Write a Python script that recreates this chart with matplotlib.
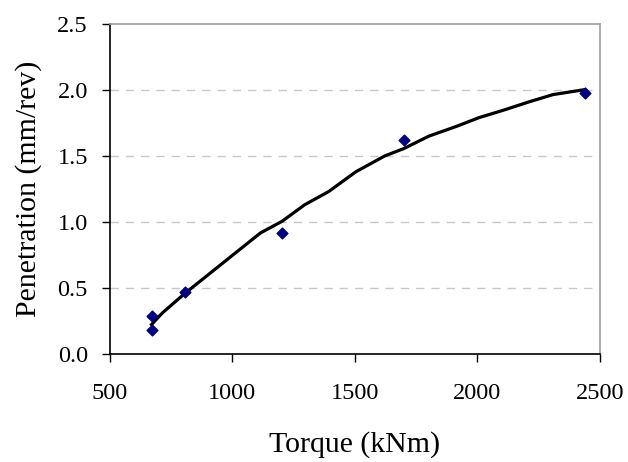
import matplotlib
matplotlib.use("Agg")
import matplotlib.pyplot as plt

# Measured penetration vs. cutterhead torque
torque = [670, 672, 807, 1203, 1700, 2439]
penetration = [0.18, 0.285, 0.47, 0.92, 1.62, 1.98]

# Trend line through the measurements
trend_torque = [670, 714, 807, 919, 999, 1115, 1203, 1295, 1393, 1504,
                1622, 1700, 1802, 1916, 2006, 2112, 2211, 2309, 2439]
trend_pen = [0.222, 0.31, 0.46, 0.626, 0.745, 0.917, 1.005, 1.13, 1.23, 1.38,
             1.50, 1.556, 1.65, 1.725, 1.79, 1.85, 1.91, 1.965, 2.003]

x_ticks = [500, 1000, 1500, 2000, 2500]
y_ticks = [0.0, 0.5, 1.0, 1.5, 2.0, 2.5]

plt.rcParams["font.family"] = ["Liberation Serif", "DejaVu Serif"]

fig = plt.figure(figsize=(6.28, 4.62), dpi=100)
ax = fig.add_axes([0.175, 0.234, 0.780, 0.714])

for y in y_ticks[1:-1]:
    ax.axhline(y, color="#c8c8c8", lw=1.0, ls=(0, (6, 5)), zorder=0)

ax.plot(trend_torque, trend_pen, color="black", lw=2.3, zorder=2)
ax.scatter(torque, penetration, marker="D", s=30, color="#000080", zorder=3)

ax.set_xlim(500, 2500)
ax.set_ylim(0, 2.5)
ax.set_xticks(x_ticks)
ax.set_xticklabels([str(v) for v in x_ticks])
ax.set_yticks(y_ticks)
ax.set_yticklabels([f"{v:.1f}" for v in y_ticks])

ax.tick_params(axis="both", direction="out", length=5.8, width=1.0,
               labelsize=17.5, color="black")
ax.tick_params(axis="x", pad=15)
ax.tick_params(axis="y", pad=10)

ax.spines["left"].set_color("black")
ax.spines["bottom"].set_color("black")
ax.spines["top"].set_color("#a0a0a0")
ax.spines["right"].set_color("#a0a0a0")
for s in ax.spines.values():
    s.set_linewidth(1.2)

ax.set_xlabel("Torque (kNm)", fontsize=21.5, va="center")
ax.xaxis.set_label_coords(0.5, -0.276)
ax.set_ylabel("Penetration (mm/rev)", fontsize=21.5, va="center")
ax.yaxis.set_label_coords(-0.167, 0.5)

fig.savefig("out.png", dpi=100)
